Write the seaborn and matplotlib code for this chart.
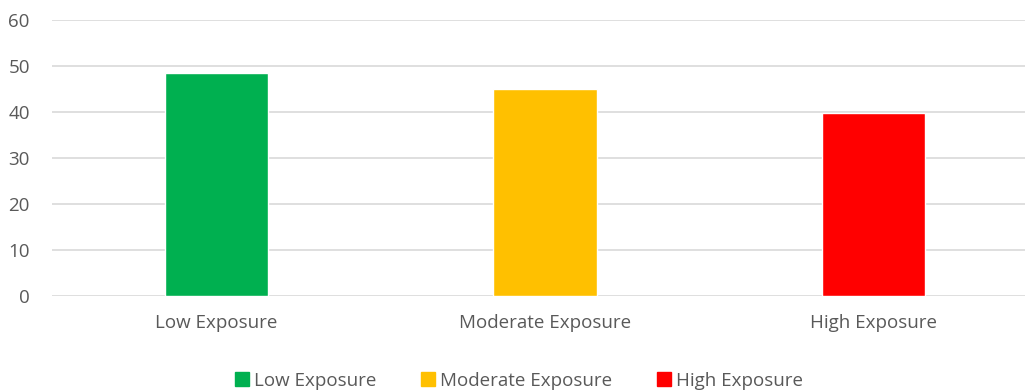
import matplotlib
matplotlib.use("Agg")
import matplotlib.pyplot as plt
import seaborn as sns
import pandas as pd
from matplotlib.lines import Line2D

categories = ["Low Exposure", "Moderate Exposure", "High Exposure"]
values = [48.4, 44.9, 39.7]
colors = ["#00B050", "#FFC000", "#FF0000"]
yticks = [0, 10, 20, 30, 40, 50, 60]

sns.set_theme(style="white")
plt.rcParams["font.family"] = ["Open Sans", "DejaVu Sans"]

df = pd.DataFrame({"cat": categories, "val": values})

fig = plt.figure(figsize=(10.25, 3.92), dpi=100)
ax = fig.add_axes([52/1025, 1 - 296/392, (1025 - 52)/1025, 276/392])

sns.barplot(data=df, x="cat", y="val", hue="cat", palette=colors, dodge=False,
            width=0.314, ax=ax, legend=False, saturation=1, zorder=3)

ax.set_ylim(0, 60)
ax.set_xlim(-0.5015, 2.462)
ax.set_yticks(yticks)
ax.set_yticklabels([str(t) for t in yticks])
ax.yaxis.grid(True, color="#D9D9D9", linewidth=1.2, zorder=0)
ax.set_axisbelow(True)
for s in ax.spines.values():
    s.set_visible(False)
ax.tick_params(axis="both", length=0, colors="#595959", labelsize=13.5)
ax.tick_params(axis="y", pad=16)
ax.tick_params(axis="x", pad=13)
ax.set_xlabel("")
ax.set_ylabel("")

handles = [Line2D([0], [0], marker="s", linestyle="", markersize=10,
                  markerfacecolor=c, markeredgecolor=c, label=l)
           for c, l in zip(colors, categories)]
fig.legend(handles=handles, loc="center", bbox_to_anchor=(518/1025, 1 - 381/392),
           ncol=3, frameon=False, fontsize=13.5, handletextpad=0.2,
           columnspacing=2.3, labelcolor="#595959", handlelength=0.9)

fig.savefig("out.png", dpi=100)
